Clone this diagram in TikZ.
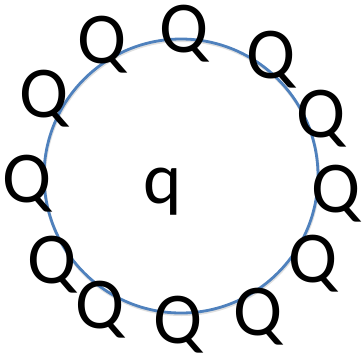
\documentclass[tikz,border=0pt]{standalone}
\usepackage{fontspec}
\setmainfont{Carlito}
\definecolor{ringblue}{RGB}{79,129,189}
\begin{document}
\begin{tikzpicture}[x=1pt,y=-1pt,
  letter/.style={inner sep=0pt,anchor=base,text height=48pt,text depth=12pt,font=\fontsize{73}{80}\selectfont},
  ring/.style={draw=ringblue,line width=2.8pt}]
\useasboundingbox (0,0) rectangle (364,360);
\node[circle,draw=black!12,line width=3pt,minimum size=274pt,inner sep=0pt] (s) at (181.5,177.5) {};
\node[ring,circle,minimum size=274pt,inner sep=0pt] (c) at (181,176) {};
\node[letter] (q) at (162.5,203) {q};
\node[letter] (q1) at (184,52) {Q};
\node[letter] (q2) at (271,78) {Q};
\node[letter] (q3) at (321,137) {Q};
\node[letter] (q4) at (336,212) {Q};
\node[letter] (q5) at (313,282) {Q};
\node[letter] (q6) at (258,335) {Q};
\node[letter] (q7) at (178,343) {Q};
\node[letter] (q8) at (100,328) {Q};
\node[letter] (q9) at (52,283) {Q};
\node[letter] (q10) at (27,202) {Q};
\node[letter] (q11) at (44,117) {Q};
\node[letter] (q12) at (102,63) {Q};
\end{tikzpicture}
\end{document}
